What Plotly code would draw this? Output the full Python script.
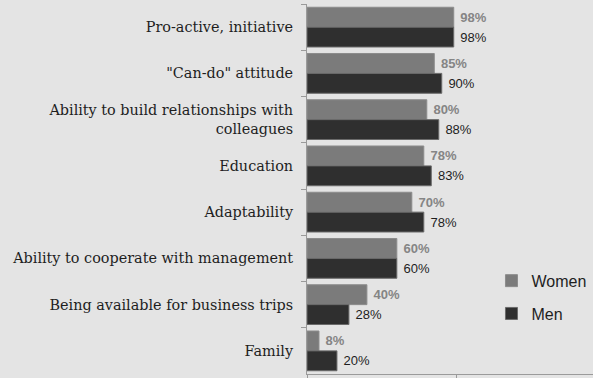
import plotly.graph_objects as go

categories = [
    "Pro-active, initiative",
    "\"Can-do\" attitude",
    "Ability to build relationships with<br>colleagues",
    "Education",
    "Adaptability",
    "Ability to cooperate with management",
    "Being available for business trips",
    "Family",
]
women = [98, 85, 80, 78, 70, 60, 40, 8]
men = [98, 90, 88, 83, 78, 60, 28, 20]

BG = "#e4e4e4"
WOMEN_COLOR = "#7b7b7b"
MEN_COLOR = "#2f2f2f"

fig = go.Figure()
fig.add_trace(go.Bar(
    name="Women", y=categories, x=women, orientation="h",
    marker=dict(color=WOMEN_COLOR, line=dict(color="#8c8c8c", width=1)),
    text=["\u00a0" + f"{v}%" for v in women], textposition="outside",
    textfont=dict(family="Liberation Sans, Arial, sans-serif", size=13,
                  color="#858585", weight="bold"),
    cliponaxis=False, legendgroup="w",
))
fig.add_trace(go.Bar(
    name="Men", y=categories, x=men, orientation="h",
    marker=dict(color=MEN_COLOR, line=dict(color="#6a6a6a", width=1)),
    text=["\u00a0" + f"{v}%" for v in men], textposition="outside",
    textfont=dict(family="Liberation Sans, Arial, sans-serif", size=13,
                  color="#1e1e1e"),
    cliponaxis=False, legendgroup="m",
))

fig.update_layout(
    width=593, height=378,
    margin=dict(l=307, r=0, t=4, b=2),
    paper_bgcolor=BG, plot_bgcolor=BG,
    barmode="group", bargap=0.14, bargroupgap=0,
    showlegend=True,
    legend=dict(
        x=0.645, y=0.298, xanchor="left", yanchor="top",
        bgcolor="rgba(0,0,0,0)", tracegroupgap=9,
        font=dict(family="Liberation Sans, Arial, sans-serif", size=16, color="#1e1e1e"),
        itemwidth=30,
    ),
    xaxis=dict(
        range=[0, 191], showgrid=False, zeroline=False,
        showline=True, linecolor="#9a9a9a", linewidth=1,
        ticks="outside", ticklen=4, tickcolor="#9a9a9a",
        tickvals=[0, 100], showticklabels=False,
    ),
    yaxis=dict(
        autorange="reversed", showgrid=False, zeroline=False,
        showline=True, linecolor="#9a9a9a", linewidth=1,
        ticks="outside", ticklen=5, tickcolor="#9a9a9a",
        tickson="boundaries", ticklabelstandoff=10,
        tickfont=dict(family="DejaVu Serif, Georgia, serif", size=14.4, color="#1e1e1e"),
    ),
)

fig.write_html("out.html")
